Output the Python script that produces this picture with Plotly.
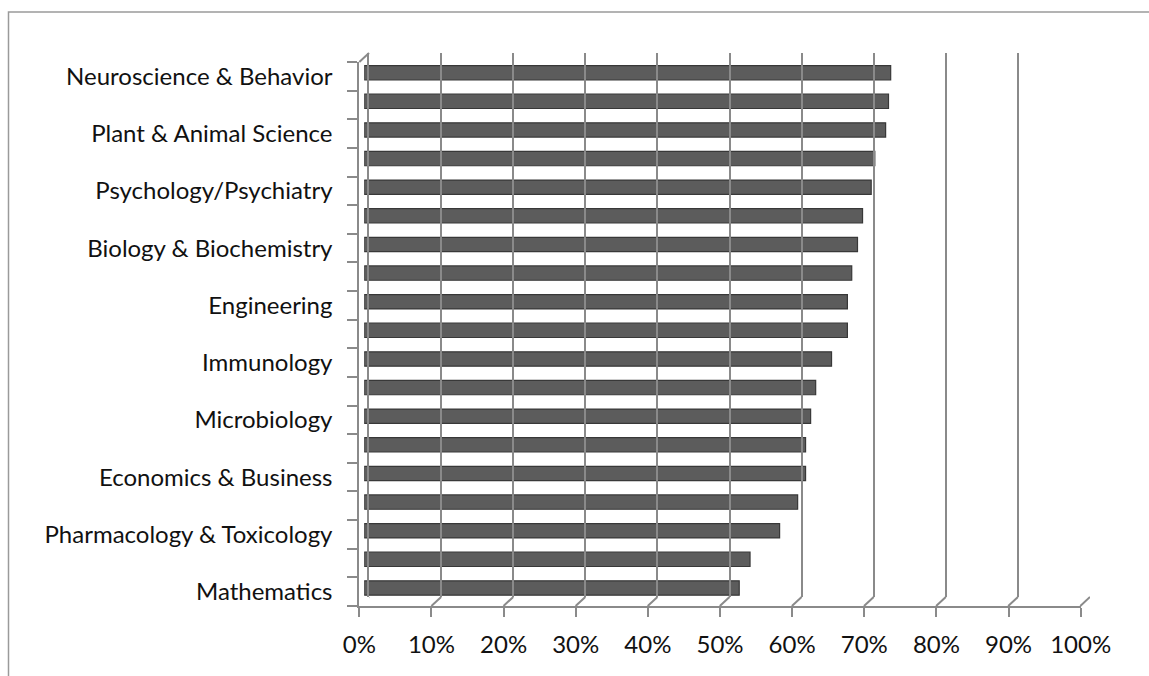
import plotly.graph_objects as go

# Share by field, top to bottom; only every other category carries a printed label
labels = [
    "Neuroscience & Behavior", "",
    "Plant & Animal Science", "",
    "Psychology/Psychiatry", "",
    "Biology & Biochemistry", "",
    "Engineering", "",
    "Immunology", "",
    "Microbiology", "",
    "Economics & Business", "",
    "Pharmacology & Toxicology", "",
    "Mathematics",
]
values = [0.730, 0.727, 0.723, 0.708, 0.703, 0.691, 0.684, 0.676, 0.670, 0.670,
          0.648, 0.626, 0.619, 0.612, 0.612, 0.601, 0.576, 0.535, 0.520]
pct_ticks = [i / 10 for i in range(11)]

W, H = 1149, 676
pos = list(range(len(values)))
label_pos = [i for i, t in enumerate(labels) if t]
label_txt = [labels[i] for i in label_pos]
bounds = [i - 0.5 for i in range(len(values) + 1)]

GRID = "#8a8a8a"
FONT = dict(family="Lato, Carlito, Calibri, sans-serif", size=24, color="#111111")


def px(v, total):
    return v / total


fig = go.Figure()

# bars (middle depth of the pseudo-3D box)
fig.add_trace(go.Bar(
    x=values, y=pos, orientation="h", width=0.5,
    marker=dict(color="#5c5c5c", line=dict(color="#383838", width=1.2)),
    xaxis="x", yaxis="y", hoverinfo="x", showlegend=False,
))
# back wall carrying the vertical gridlines
fig.add_trace(go.Scatter(x=[0], y=[0], mode="markers", marker=dict(opacity=0),
                         xaxis="x2", yaxis="y2", hoverinfo="skip", showlegend=False))
# front edge carrying tick labels
fig.add_trace(go.Scatter(x=[0], y=[0], mode="markers", marker=dict(opacity=0),
                         xaxis="x3", yaxis="y3", hoverinfo="skip", showlegend=False))

# pixel geometry of the box
back_x0, back_x1, back_top, back_bot = 369, 1090, 53, 597
front_x0, front_x1, front_top, front_bot = 359.3, 1080.7, 62, 606
mid_x0, mid_x1 = 364.2, 1085.4
mid_top, mid_bot = 58.4, 602.3

hidden = dict(showgrid=False, zeroline=False, showticklabels=False, ticks="",
              showline=False, automargin=False)

fig.update_layout(
    width=W, height=H,
    margin=dict(l=0, r=0, t=0, b=0, pad=0, autoexpand=False),
    paper_bgcolor="white", plot_bgcolor="rgba(0,0,0,0)",
    font=FONT,
    xaxis=dict(domain=[px(mid_x0, W), px(mid_x1, W)], range=[0, 1], anchor="y", **hidden),
    yaxis=dict(domain=[1 - px(mid_bot, H), 1 - px(mid_top, H)], range=[18.5, -0.5],
               anchor="x", **hidden),
    xaxis2=dict(domain=[px(back_x0, W), px(back_x1, W)], range=[0, 1], anchor="y2",
                showgrid=True, gridcolor=GRID, gridwidth=2, tickvals=pct_ticks,
                showticklabels=False, ticks="", zeroline=False, showline=False,
                automargin=False),
    yaxis2=dict(domain=[1 - px(back_bot, H), 1 - px(back_top, H)], range=[18.5, -0.5],
                anchor="x2", showgrid=False, zeroline=False, showticklabels=False, ticks="",
                showline=True, linecolor=GRID, linewidth=2, automargin=False),
    xaxis3=dict(domain=[px(front_x0, W), px(front_x1, W)], range=[0, 1], anchor="y3",
                tickvals=pct_ticks, tickformat=".0%", ticks="outside", ticklen=9,
                tickcolor=GRID, tickwidth=2, showline=True, linecolor=GRID, linewidth=2,
                showgrid=False, zeroline=False, ticklabelstandoff=7, tickfont=FONT,
                automargin=False),
    yaxis3=dict(domain=[1 - px(front_bot, H), 1 - px(front_top, H)], range=[18.5, -0.5],
                anchor="x3", tickvals=label_pos, ticktext=label_txt, ticks="",
                ticklabelstandoff=20, tickfont=FONT,
                minor=dict(tickvals=bounds, ticks="outside", ticklen=10,
                           tickcolor=GRID, tickwidth=2),
                showline=True, linecolor=GRID, linewidth=2,
                showgrid=False, zeroline=False, automargin=False),
)

shapes = []
# floor: short diagonals joining each back gridline to its front tick
for v in pct_ticks:
    shapes.append(dict(type="line", xref="x2", yref="paper",
                       xsizemode="pixel", ysizemode="pixel",
                       xanchor=v, yanchor=1 - px(back_bot, H),
                       x0=0, x1=-(back_x0 - front_x0),
                       y0=0, y1=-(front_bot - back_bot),
                       line=dict(color=GRID, width=2)))
# top corner of the side wall
shapes.append(dict(type="line", xref="paper", yref="paper",
                   x0=px(front_x0, W), y0=1 - px(front_top, H),
                   x1=px(back_x0, W), y1=1 - px(back_top, H),
                   line=dict(color=GRID, width=2)))
# chart area frame
shapes.append(dict(type="rect", xref="paper", yref="paper",
                   x0=px(8.5, W), y0=-0.05, x1=1.05, y1=1 - px(12, H),
                   line=dict(color="#9a9a9a", width=1.5), fillcolor="rgba(0,0,0,0)"))
fig.update_layout(shapes=shapes)

fig.write_html("out.html")
